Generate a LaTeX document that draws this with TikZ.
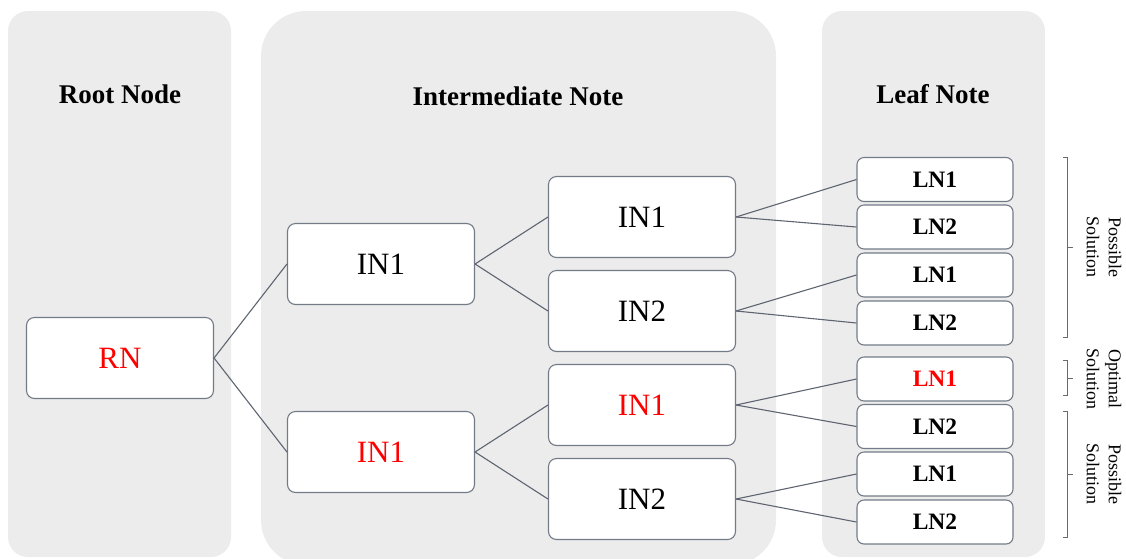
\documentclass[tikz,border=0pt]{standalone}
\usepackage{fontspec}
\setmainfont{Liberation Serif}
\definecolor{panelgray}{HTML}{ECECEC}
\definecolor{boxline}{HTML}{737B87}
\definecolor{linkline}{HTML}{5E6571}
\definecolor{bracketgray}{HTML}{6A6A6A}
\definecolor{hotred}{HTML}{FF0000}
\begin{document}
\begin{tikzpicture}[x=1pt,y=-1pt,
  panel/.style={fill=panelgray,draw=none},
  title/.style={font=\bfseries\fontsize{27}{32}\selectfont},
  inbox/.style={draw=boxline,line width=1.1pt,fill=white,rounded corners=8pt,
    minimum width=187pt,minimum height=81pt,inner sep=0pt,
    font=\fontsize{31}{37}\selectfont},
  leafbox/.style={draw=boxline,line width=1.1pt,fill=white,rounded corners=7pt,
    minimum width=156pt,minimum height=44pt,inner sep=0pt,
    font=\bfseries\fontsize{23.5}{28}\selectfont},
  link/.style={draw=linkline,line width=1.1pt},
  bracket/.style={draw=bracketgray,line width=1pt},
  sollabel/.style={rotate=-90,align=center,font=\fontsize{18}{22}\selectfont}]

\useasboundingbox (0,0) rectangle (1126,558);
\clip (0,0) rectangle (1126,558);

% column panels
\path[panel,rounded corners=20pt] (8,11) rectangle (231,557);
\path[panel,rounded corners=45pt] (261,11) rectangle (776,565);
\path[panel,rounded corners=20pt] (822,11) rectangle (1045,557);

% column titles
\node[title] (tRoot) at (120,94) {Root Node};
\node[title] (tInter) at (518,96) {Intermediate Note};
\node[title] (tLeaf) at (933,94) {Leaf Note};

% root
\node[inbox,text=hotred] (rn) at (120,358) {RN};

% first level
\node[inbox] (a) at (381,264) {IN1};
\node[inbox,text=hotred] (b) at (381,452) {IN1};

% second level
\node[inbox] (aa) at (642,217) {IN1};
\node[inbox] (ab) at (642,311) {IN2};
\node[inbox,text=hotred] (ba) at (642,405) {IN1};
\node[inbox] (bb) at (642,499) {IN2};

% leaves
\node[leafbox] (aa1) at (935,179.5) {LN1};
\node[leafbox] (aa2) at (935,227) {LN2};
\node[leafbox] (ab1) at (935,275) {LN1};
\node[leafbox] (ab2) at (935,323) {LN2};
\node[leafbox,text=hotred] (ba1) at (935,379) {LN1};
\node[leafbox] (ba2) at (935,426.5) {LN2};
\node[leafbox] (bb1) at (935,474) {LN1};
\node[leafbox] (bb2) at (935,522) {LN2};

% tree edges
\path[link] (rn.east) -- (a.west);
\path[link] (rn.east) -- (b.west);
\path[link] (a.east) -- (aa.west);
\path[link] (a.east) -- (ab.west);
\path[link] (b.east) -- (ba.west);
\path[link] (b.east) -- (bb.west);
\path[link] (aa.east) -- (aa1.west);
\path[link] (aa.east) -- (aa2.west);
\path[link] (ab.east) -- (ab1.west);
\path[link] (ab.east) -- (ab2.west);
\path[link] (ba.east) -- (ba1.west);
\path[link] (ba.east) -- (ba2.west);
\path[link] (bb.east) -- (bb1.west);
\path[link] (bb.east) -- (bb2.west);

% solution brackets
\path[bracket] (1063,157) -- (1067,157) -- (1067,337) -- (1063,337);
\path[bracket] (1067,247) -- (1073,247);
\path[bracket] (1063,360) -- (1067,360) -- (1067,395) -- (1063,395);
\path[bracket] (1067,378) -- (1073,378);
\path[bracket] (1063,411) -- (1067,411) -- (1067,537) -- (1063,537);
\path[bracket] (1067,474) -- (1073,474);

\node[sollabel] (s1) at (1104,247) {Possible\\Solution};
\node[sollabel] (s2) at (1104,379) {Optimal\\Solution};
\node[sollabel] (s3) at (1104,474) {Possible\\Solution};
\end{tikzpicture}
\end{document}
